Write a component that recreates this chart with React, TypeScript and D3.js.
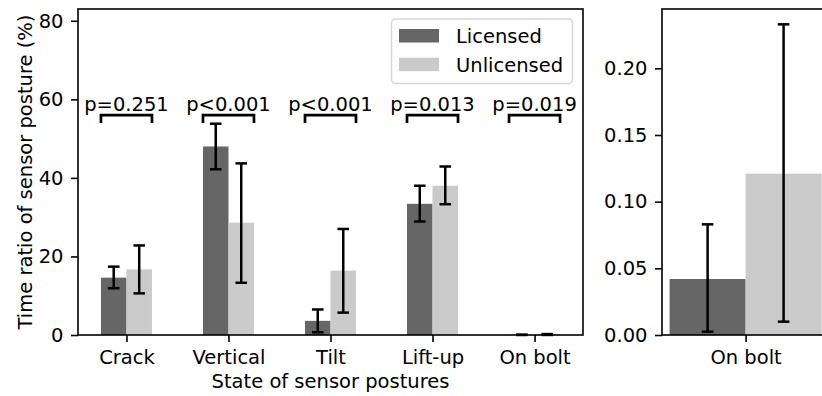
import React, { useEffect, useRef } from 'react';
import * as d3 from 'd3';

const categories = ['Crack', 'Vertical', 'Tilt', 'Lift-up', 'On bolt'];
const licensed = [14.6, 48.0, 3.6, 33.4, 0.042];
const licensedLow = [11.9, 42.2, 0.7, 28.9, 0.0025];
const licensedHigh = [17.4, 53.8, 6.5, 38.0, 0.083];
const unlicensed = [16.7, 28.6, 16.4, 38.0, 0.121];
const unlicensedLow = [10.6, 13.3, 5.7, 33.3, 0.01];
const unlicensedHigh = [22.8, 43.7, 27.0, 42.9, 0.233];
const pLabels = ['p=0.251', 'p<0.001', 'p<0.001', 'p=0.013', 'p=0.019'];
const leftTicks = [0, 20, 40, 60, 80];
const rightTicks = [0, 0.05, 0.1, 0.15, 0.2];

const DARK = '#666666';
const LIGHT = '#cacaca';
const FONT = 'DejaVu Sans, sans-serif';
const FS = 19.5;

export default function App() {
  const ref = useRef<SVGSVGElement>(null);

  useEffect(() => {
    const svg = d3.select(ref.current);
    svg.selectAll('*').remove();

    // ---- left panel
    const x = d3.scaleLinear().domain([-0.475, 4.475]).range([78, 583]);
    const y = d3.scaleLinear().domain([0, 83]).range([335, 9]);
    const bw = 0.25;

    const g = svg.append('g');

    // bars + error bars; `pos` maps a category index to its x position in data units
    const drawBars = (gg: any, xs: any, ys: any, idx: number[], w: number, pos: (i: number) => number) => {
      const series = [
        { v: licensed, lo: licensedLow, hi: licensedHigh, off: -w / 2, col: DARK },
        { v: unlicensed, lo: unlicensedLow, hi: unlicensedHigh, off: w / 2, col: LIGHT },
      ];
      series.forEach(s => {
        gg.selectAll(null)
          .data(idx)
          .enter()
          .append('rect')
          .attr('x', (i: number) => xs(pos(i) + s.off - w / 2))
          .attr('width', xs(w) - xs(0))
          .attr('y', (i: number) => ys(s.v[i]))
          .attr('height', (i: number) => ys(0) - ys(s.v[i]))
          .style('fill', s.col);
      });
      series.forEach(s => {
        idx.forEach(i => {
          const cx = xs(pos(i) + s.off);
          gg.append('line')
            .attr('x1', cx).attr('x2', cx)
            .attr('y1', ys(s.lo[i])).attr('y2', ys(s.hi[i]))
            .style('stroke', '#000').style('stroke-width', 2.5);
          [s.lo[i], s.hi[i]].forEach(v => {
            gg.append('line')
              .attr('x1', cx - 5.8).attr('x2', cx + 5.8)
              .attr('y1', ys(v)).attr('y2', ys(v))
              .style('stroke', '#000').style('stroke-width', 2.5);
          });
        });
      });
    };

    drawBars(g, x, y, [0, 1, 2, 3, 4], bw, i => i);

    // significance brackets
    categories.forEach((c, i) => {
      g.append('path')
        .attr('d', `M${x(i - bw)},${y(54)}V${y(56)}H${x(i + bw)}V${y(54)}`)
        .style('fill', 'none').style('stroke', '#000').style('stroke-width', 2.7);
      g.append('text')
        .attr('x', x(i)).attr('y', y(56) - 4)
        .attr('text-anchor', 'middle')
        .style('font-family', FONT).style('font-size', FS + 'px')
        .text(pLabels[i]);
    });

    const styleAxis = (ax: any) => {
      ax.select('.domain').remove();
      ax.selectAll('line').style('stroke', '#000').style('stroke-width', 1.6);
      ax.selectAll('text').style('font-family', FONT).style('font-size', FS + 'px').style('fill', '#000');
    };

    const yAx = g.append('g').attr('transform', 'translate(78,0)')
      .call(d3.axisLeft(y).tickValues(leftTicks).tickSize(7).tickPadding(7.5).tickFormat(d3.format('d')));
    styleAxis(yAx);

    const xAx = g.append('g').attr('transform', 'translate(0,335)')
      .call(d3.axisBottom(x).tickValues([0, 1, 2, 3, 4]).tickSize(7).tickPadding(8)
        .tickFormat((d: any) => categories[d]));
    styleAxis(xAx);

    g.append('rect')
      .attr('x', 78).attr('y', 9).attr('width', 583 - 78).attr('height', 335 - 9)
      .style('fill', 'none').style('stroke', '#000').style('stroke-width', 1.6);

    // legend
    const lg = g.append('g');
    lg.append('rect')
      .attr('x', 391.5).attr('y', 19).attr('width', 181).attr('height', 64.5).attr('rx', 4)
      .style('fill', 'rgba(255,255,255,0.8)').style('stroke', '#d6d6d6').style('stroke-width', 1.5);
    [{ t: 'Licensed', c: DARK }, { t: 'Unlicensed', c: LIGHT }].forEach((d, k) => {
      lg.append('rect')
        .attr('x', 399).attr('y', 29 + k * 28.7).attr('width', 40).attr('height', 13.5)
        .style('fill', d.c);
      lg.append('text')
        .attr('x', 456).attr('y', 42.7 + k * 29)
        .style('font-family', FONT).style('font-size', FS + 'px')
        .text(d.t);
    });

    g.append('text')
      .attr('transform', 'translate(32,172) rotate(-90)')
      .attr('text-anchor', 'middle')
      .style('font-family', FONT).style('font-size', FS + 'px')
      .text('Time ratio of sensor posture (%)');
    g.append('text')
      .attr('x', 330.5).attr('y', 388)
      .attr('text-anchor', 'middle')
      .style('font-family', FONT).style('font-size', FS + 'px')
      .text('State of sensor postures');

    // ---- right panel (On bolt zoom)
    const x2 = d3.scaleLinear().domain([-0.44, 0.44]).range([662, 829.2]);
    const y2 = d3.scaleLinear().domain([0, 0.2445]).range([335, 9]);
    const g2 = svg.append('g');
    drawBars(g2, x2, y2, [4], 0.4, () => 0);

    const y2Ax = g2.append('g').attr('transform', 'translate(662,0)')
      .call(d3.axisLeft(y2).tickValues(rightTicks).tickSize(7).tickPadding(7.5).tickFormat(d3.format('.2f')));
    styleAxis(y2Ax);
    const x2Ax = g2.append('g').attr('transform', 'translate(0,335)')
      .call(d3.axisBottom(x2).tickValues([0]).tickSize(7).tickPadding(8).tickFormat(() => 'On bolt'));
    styleAxis(x2Ax);

    g2.append('rect')
      .attr('x', 662).attr('y', 9).attr('width', 829.2 - 662).attr('height', 335 - 9)
      .style('fill', 'none').style('stroke', '#000').style('stroke-width', 1.6);
  }, []);

  return (
    <svg ref={ref} width={822} height={396}
      style={{ position: 'absolute', left: 0, top: 0, background: '#fff' }} />
  );
}
